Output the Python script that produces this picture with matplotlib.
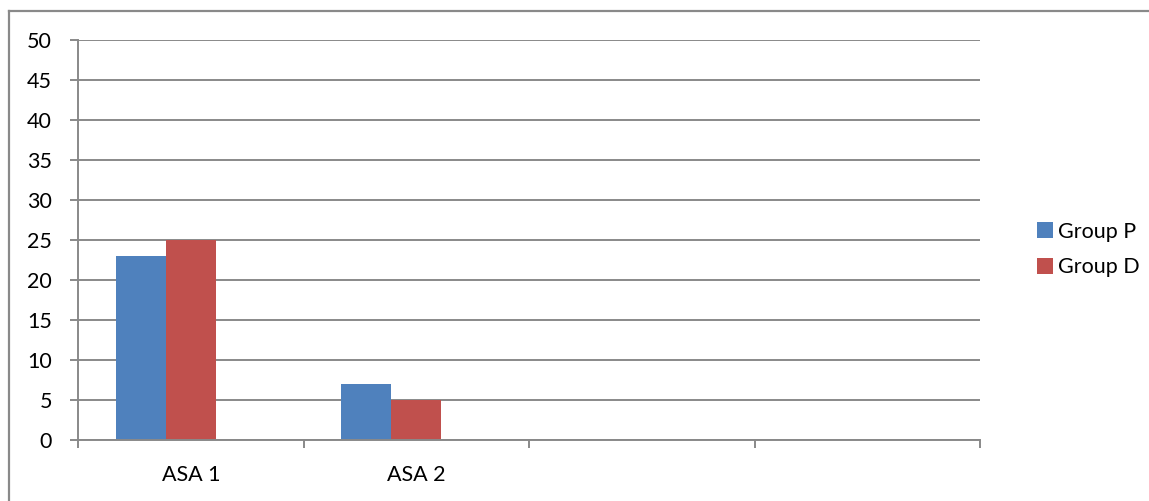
import numpy as np
import matplotlib.pyplot as plt
from matplotlib.lines import Line2D

categorias = ["ASA 1", "ASA 2", "", ""]
grupo_p = [23, 7, 0, 0]
grupo_d = [25, 5, 0, 0]
series = ["Group P", "Group D"]
cores = ["#4F81BD", "#C0504D"]
yticks = [0, 5, 10, 15, 20, 25, 30, 35, 40, 45, 50]

plt.rcParams['font.family'] = ['Lato', 'DejaVu Sans']

W, H = 1149, 501
fig = plt.figure(figsize=(W / 100, H / 100), dpi=100)
ax = fig.add_axes([78 / W, 1 - 440 / H, (980 - 78) / W, (440 - 40) / H])

x = np.arange(len(categorias))
largura = 50 / 225.5
ax.bar(x - largura, grupo_p, largura, color=cores[0], label=series[0], zorder=3)
ax.bar(x, grupo_d, largura, color=cores[1], label=series[1], zorder=3)

cinza = "#898989"
fs = 15.5
ax.set_xlim(-0.5, len(categorias) - 0.5)
ax.set_ylim(0, 50)
ax.set_yticks(yticks)
ax.yaxis.grid(True, color=cinza, linewidth=1.4, zorder=0)
ax.set_axisbelow(True)
for s in ["top", "right"]:
    ax.spines[s].set_visible(False)
for s in ["left", "bottom"]:
    ax.spines[s].set_color(cinza)
    ax.spines[s].set_linewidth(1.4)
    ax.spines[s].set_zorder(4)

# ticks do eixo x nas divisas das categorias, rótulos no centro
ax.set_xticks(np.arange(-0.5, len(categorias)), minor=False)
ax.set_xticklabels([])
ax.set_xticks(x, minor=True)
ax.set_xticklabels(categorias, minor=True, fontsize=fs)
ax.tick_params(axis="x", which="major", length=5.8, width=1.4, color=cinza, direction="out")
ax.tick_params(axis="x", which="minor", length=0, pad=18)
ax.tick_params(axis="y", length=5.8, width=1.4, color=cinza, labelsize=fs, pad=13)

ax.legend(loc="center left", bbox_to_anchor=(1037 / W, 1 - 249.5 / H),
          bbox_transform=fig.transFigure, frameon=False, fontsize=fs,
          handlelength=0.74, handleheight=0.74, handletextpad=0.25, labelspacing=0.72,
          borderaxespad=0, borderpad=0)

# moldura do gráfico (só topo e esquerda aparecem)
fig.add_artist(Line2D([9 / W, 9 / W], [0, 1 - 11 / H], color=cinza, linewidth=1.6, transform=fig.transFigure))
fig.add_artist(Line2D([9 / W, 1], [1 - 11 / H, 1 - 11 / H], color=cinza, linewidth=1.6, transform=fig.transFigure))

fig.savefig("out.png", dpi=100)
